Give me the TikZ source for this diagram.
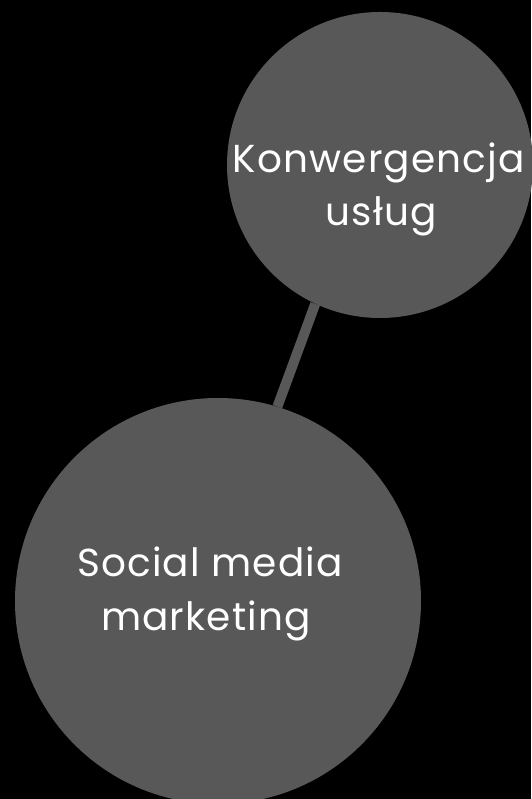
\documentclass[tikz,border=0pt]{standalone}
\usepackage{fontspec}
\setmainfont{Poppins}[LetterSpace=3]
\definecolor{circ}{HTML}{585858}
\begin{document}
\begin{tikzpicture}[x=1pt,y=1pt,
  bubble/.style={circle,fill=circ,inner sep=0pt},
  lbl/.style={text=white,font=\fontsize{39}{44}\selectfont,anchor=base,inner sep=0pt},
  link/.style={draw=circ,line width=10pt}]
\fill[black] (0,0) rectangle (531,799);
\useasboundingbox (0,0) rectangle (531,799);
\node[bubble,minimum size=306pt] (top) at (380,634) {};
\node[bubble,minimum size=406pt] (bot) at (218,198) {};
\draw[link] (top.245.8) -- (bot.73.2);
\node[lbl] (t1) at (379,626) {Konwergencja};
\node[lbl] (t2) at (381,573) {usług};
\node[lbl] (b1) at (210,222) {Social media};
\node[lbl] (b2) at (206,168) {marketing};
\end{tikzpicture}
\end{document}
